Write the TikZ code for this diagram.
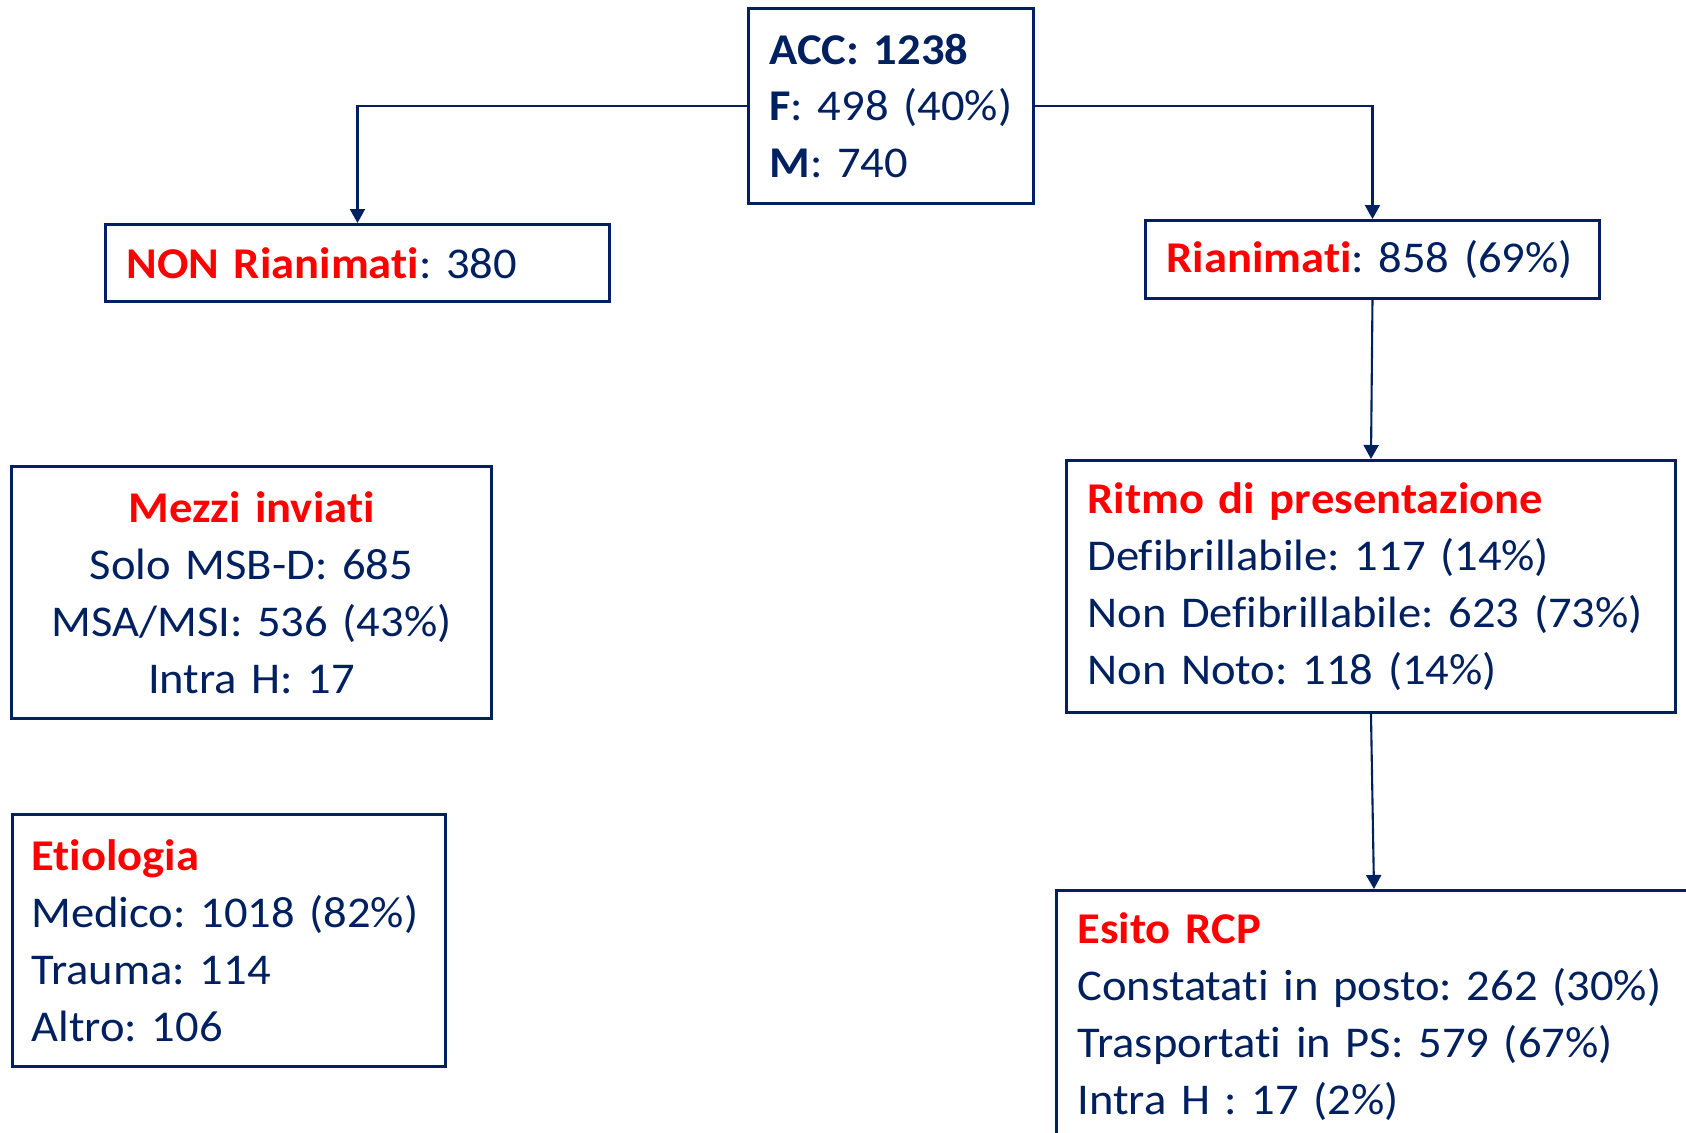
\documentclass[tikz,border=0pt]{standalone}
\usepackage{fontspec}
\setmainfont{Carlito}[FakeStretch=1.06, Ligatures=NoCommon]
\usepackage{tikz}
\usetikzlibrary{arrows.meta,positioning}
\definecolor{deepnavy}{HTML}{002060}
\definecolor{alertred}{HTML}{FF0000}
\newcommand{\boxfont}{\fontsize{12.5pt}{16.2pt}\selectfont}
\newcommand{\hd}[1]{\textcolor{alertred}{\textbf{#1}}}
\frenchspacing

\begin{document}
\begin{tikzpicture}[
    x=0.1mm, y=-0.1mm,
    box/.style={draw=deepnavy, line width=0.85pt, fill=white, text=deepnavy, anchor=north west,
        inner xsep=2.1mm, inner ysep=0pt, align=left, font=\boxfont},
    link/.style={-{Triangle[length=1.4mm, width=1.5mm]}, line width=0.6pt, draw=deepnavy}
]
\useasboundingbox (0,0) rectangle (1686,1133);
\node[box, text width=24.3mm, minimum height=19.5mm] (acc) at (747,7) {\textbf{ACC: 1238}\\
\textbf{F}: 498 (40\%)\\
\textbf{M}: 740};
\node[box, text width=46.2mm, minimum height=7.7mm] (nonrian) at (104,223) {\hd{NON Rianimati}: 380};
\node[box, text width=41.2mm, minimum height=7.8mm] (rian) at (1144,219) {\hd{Rianimati}: 858 (69\%)};
\node[box, text width=43.8mm, minimum height=25.2mm, align=center] (mezzi) at (10,465) {\hd{Mezzi inviati}\\
Solo MSB-D: 685\\
MSA/MSI: 536 (43\%)\\
Intra H: 17};
\node[box, text width=56.7mm, minimum height=25.2mm] (ritmo) at (1065,459) {\hd{Ritmo di presentazione}\\
Defibrillabile: 117 (14\%)\\
Non Defibrillabile: 623 (73\%)\\
Non Noto: 118 (14\%)};
\node[box, inner xsep=1.9mm, text width=39.5mm, minimum height=25.2mm] (etio) at (11,813) {\hd{Etiologia}\\
Medico: 1018 (82\%)\\
Trauma: 114\\
Altro: 106};
\node[box, text width=59.3mm, minimum height=25.2mm] (esito) at (1055,889) {\hd{Esito RCP}\\
Constatati in posto: 262 (30\%)\\
Trasportati in PS: 579 (67\%)\\
Intra H : 17 (2\%)};
\draw[link] (acc.west) -| (nonrian.north);
\draw[link] (acc.east) -| (rian.north);
\draw[link] (rian.south) -- (ritmo.north);
\draw[link] (ritmo.south) -- (esito.north);
\end{tikzpicture}
\end{document}
